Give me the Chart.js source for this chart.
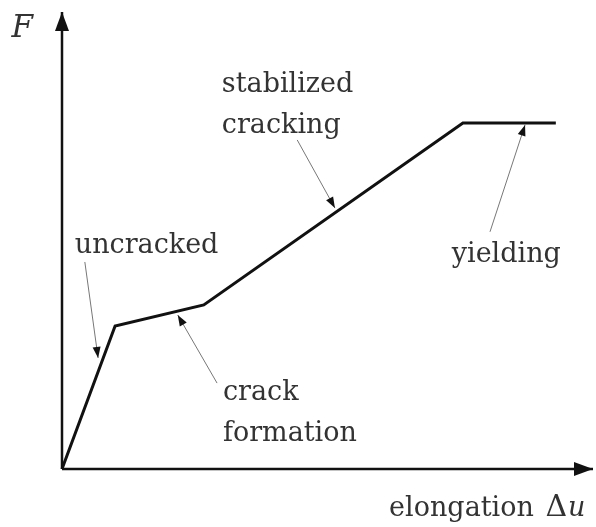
<!DOCTYPE html>
<html>
<head>
<meta charset="utf-8">
<script src="https://cdn.jsdelivr.net/npm/chart.js@4.4.1/dist/chart.umd.min.js"></script>
<style>
  html, body { margin: 0; padding: 0; background: #fff; }
  #wrap { width: 596px; height: 527px; }
</style>
</head>
<body>
<div id="wrap"><canvas id="forceChart" width="596" height="527"></canvas></div>
<script>
// force-elongation curve (arbitrary units, axes run 0..100)
const elongation = [0, 10, 26.7, 75.5, 93];
const force = [0, 31.3, 35.9, 75.7, 75.7];
const axisMax = 100;

// annotations: label lines, where the text sits and where the pointer goes
const noteTexts = [['uncracked'], ['crack', 'formation'], ['stabilized', 'cracking'], ['yielding']];
const noteTextX = [2.4, 30.3, 30.1, 73.4];
const noteTextY = [47.3, 15.1, 82.5, 45.3];
const noteFromX = [4.3, 29.2, 44.3, 80.6];
const noteFromY = [45.3, 18.8, 72.0, 51.9];
const noteToX = [6.8, 21.8, 51.4, 87.2];
const noteToY = [24.3, 33.7, 57.1, 75.3];

// axis titles
const yTitle = 'F';
const xTitle = 'elongation ';
const xTitleSym = '\u0394';
const xTitleVar = 'u';
const yTitlePos = [-9.5, 94.5];
const xTitlePos = [61.6, -10.3];

const FONT = '"DejaVu Serif", "Liberation Serif", serif';

const curve = elongation.map((x, i) => ({ x: x, y: force[i] }));

const pointerSets = noteFromX.map((x, i) => ({
  data: [{ x: x, y: noteFromY[i] }, { x: noteToX[i], y: noteToY[i] }],
  borderColor: '#777',
  borderWidth: 1,
  pointRadius: 0,
  clip: false,
  arrowHead: [11, 4],
}));

const axisSets = [
  { data: [{ x: 0, y: 0 }, { x: axisMax, y: 0 }] },
  { data: [{ x: 0, y: 0 }, { x: 0, y: axisMax }] },
].map(d => Object.assign(d, {
  borderColor: '#111',
  borderWidth: 2.5,
  pointRadius: 0,
  clip: false,
  arrowHead: [19, 7],
}));

const drawHead = (ctx, x0, y0, x1, y1, len, half) => {
  const a = Math.atan2(y1 - y0, x1 - x0);
  const c = Math.cos(a), s = Math.sin(a);
  ctx.beginPath();
  ctx.moveTo(x1, y1);
  ctx.lineTo(x1 - len * c + half * s, y1 - len * s - half * c);
  ctx.lineTo(x1 - len * c - half * s, y1 - len * s + half * c);
  ctx.closePath();
  ctx.fill();
};

const sketchPlugin = {
  id: 'sketch',
  afterDatasetsDraw(chart) {
    const ctx = chart.ctx;
    const xs = chart.scales.x, ys = chart.scales.y;
    ctx.save();
    // arrow heads at the end of every pointer / axis
    chart.data.datasets.forEach(ds => {
      if (!ds.arrowHead) return;
      const p0 = ds.data[ds.data.length - 2], p1 = ds.data[ds.data.length - 1];
      ctx.fillStyle = '#111';
      drawHead(ctx,
        xs.getPixelForValue(p0.x), ys.getPixelForValue(p0.y),
        xs.getPixelForValue(p1.x), ys.getPixelForValue(p1.y),
        ds.arrowHead[0], ds.arrowHead[1]);
    });

    ctx.fillStyle = '#333';
    ctx.textAlign = 'left';
    ctx.textBaseline = 'alphabetic';
    ctx.font = '27px ' + FONT;
    noteTexts.forEach((lines, i) => {
      lines.forEach((t, j) => {
        ctx.fillText(t, xs.getPixelForValue(noteTextX[i]), ys.getPixelForValue(noteTextY[i]) + j * 41);
      });
    });

    // x title: upright word, delta, italic variable
    let xx = xs.getPixelForValue(xTitlePos[0]);
    const xy = ys.getPixelForValue(xTitlePos[1]);
    ctx.fillText(xTitle, xx, xy);
    xx += ctx.measureText(xTitle).width + 3;
    ctx.font = '30px ' + FONT;
    ctx.fillText(xTitleSym, xx, xy);
    xx += ctx.measureText(xTitleSym).width + 1;
    ctx.font = 'italic 27px ' + FONT;
    ctx.fillText(xTitleVar, xx, xy);
    ctx.font = 'italic 31px ' + FONT;
    ctx.fillText(yTitle, xs.getPixelForValue(yTitlePos[0]), ys.getPixelForValue(yTitlePos[1]));
    ctx.restore();
  }
};

new Chart(document.getElementById('forceChart'), {
  type: 'line',
  data: {
    datasets: [
      {
        data: curve,
        borderColor: '#111',
        borderWidth: 3,
        pointRadius: 0,
        tension: 0,
        clip: false,
      },
      ...pointerSets,
      ...axisSets,
    ],
  },
  options: {
    responsive: false,
    animation: false,
    layout: { padding: { left: 62, right: 3, top: 12, bottom: 58 } },
    scales: {
      x: { type: 'linear', min: 0, max: axisMax, display: false },
      y: { type: 'linear', min: 0, max: axisMax, display: false },
    },
    plugins: {
      legend: { display: false },
      tooltip: { enabled: false },
    },
  },
  plugins: [sketchPlugin],
});
</script>
</body>
</html>
